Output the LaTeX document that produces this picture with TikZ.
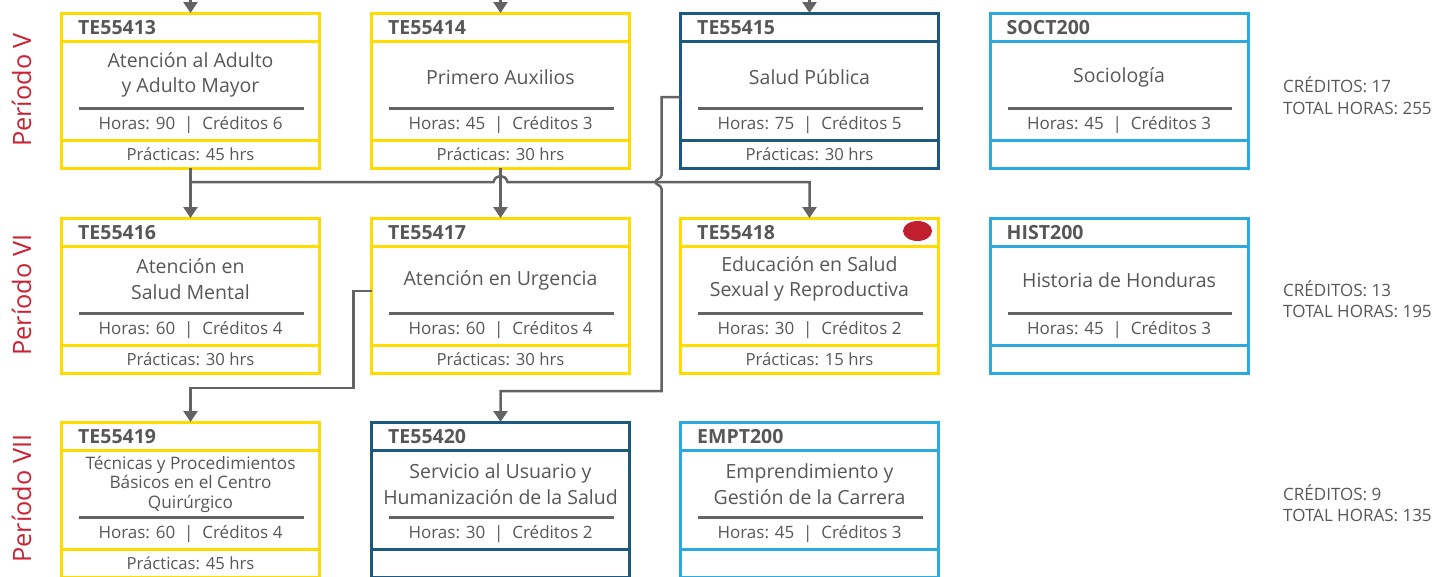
\documentclass[tikz,border=0pt]{standalone}
\usepackage{fontspec}
\setmainfont{Open Sans}
\usetikzlibrary{calc,arrows.meta,shapes.geometric}
\definecolor{cyel}{HTML}{FFDB00}
\definecolor{cdark}{HTML}{1B5A7E}
\definecolor{clight}{HTML}{2AAAE1}
\definecolor{ctxt}{HTML}{575757}
\definecolor{cline}{HTML}{636363}
\definecolor{cred}{HTML}{CC2233}
\definecolor{cdot}{HTML}{C01F2E}
\tikzset{
  cbox/.style={rectangle, minimum width=258pt, minimum height=155pt, line width=3pt, inner sep=0pt, outer sep=0pt},
  cdiv/.style={line width=3pt},
  csep/.style={line width=3pt, draw=cline},
  ccode/.style={anchor=west, inner sep=0pt, text=ctxt, font=\fontsize{19.5}{22}\selectfont\bfseries},
  ctitle/.style={align=center, inner sep=0pt, text=ctxt, font=\fontsize{19.5}{25.5}\selectfont},
  csmall/.style={font=\fontsize{17.2}{19.5}\selectfont},
  cone/.style={yshift=-2pt},
  chours/.style={inner sep=0pt, text=ctxt, font=\fontsize{17}{20}\selectfont},
  cprac/.style={inner sep=0pt, text=ctxt, font=\fontsize{16.7}{20}\selectfont},
  period/.style={rotate=90, inner sep=0pt, text=cred, font=\fontsize{25.3}{28}\selectfont},
  tot/.style={anchor=west, align=left, inner sep=0pt, text=ctxt, font=\fontsize{17}{21.5}\selectfont},
  conn/.style={draw=cline, line width=2.5pt, -{Triangle[length=11pt,width=14pt]}},
}
\newcommand\course[9]{%
  \node[cbox, draw=#4] (#1) at (#2+129,#3+77.5) {};
  \draw[cdiv, draw=#4] ($(#1.north west)+(0,28)$) -- ($(#1.north east)+(0,28)$);
  \draw[cdiv, draw=#4] ($(#1.north west)+(0,127)$) -- ($(#1.north east)+(0,127)$);
  \draw[csep] ($(#1.north west)+(17.5,95)$) -- ($(#1.north east)+(-16,95)$);
  \node[ccode] (#1-code) at ($(#1.north west)+(16.5,15)$) {#5};
  \node[ctitle,#9] (#1-title) at ($(#1.north)+(0,62)$) {#6};
  \node[chours] (#1-hours) at ($(#1.north)+(0,112)$) {#7};
  \node[cprac] (#1-prac) at ($(#1.north)+(0,141.5)$) {#8};
}
\begin{document}
\begin{tikzpicture}[x=1pt,y=-1pt]
\useasboundingbox (0,0) rectangle (1439,576);
% Row V
\course{b13}{61.5}{13}{cyel}{TE55413}{Atención al Adulto\\y Adulto Mayor}{Horas: 90 ~|~ Créditos 6}{Prácticas: 45 hrs}{}
\course{b14}{371.5}{13}{cyel}{TE55414}{Primero Auxilios}{Horas: 45 ~|~ Créditos 3}{Prácticas: 30 hrs}{cone}
\course{b15}{680.5}{13}{cdark}{TE55415}{Salud Pública}{Horas: 75 ~|~ Créditos 5}{Prácticas: 30 hrs}{cone}
\course{b21}{990}{13}{clight}{SOCT200}{Sociología}{Horas: 45 ~|~ Créditos 3}{}{cone}
% Row VI
\course{b16}{61.5}{218}{cyel}{TE55416}{Atención en\\Salud Mental}{Horas: 60 ~|~ Créditos 4}{Prácticas: 30 hrs}{yshift=1pt}
\course{b17}{371.5}{218}{cyel}{TE55417}{Atención en Urgencia}{Horas: 60 ~|~ Créditos 4}{Prácticas: 30 hrs}{}
\course{b18}{680.5}{218}{cyel}{TE55418}{Educación en Salud\\Sexual y Reproductiva}{Horas: 30 ~|~ Créditos 2}{Prácticas: 15 hrs}{yshift=1pt}
\course{b22}{990}{218}{clight}{HIST200}{Historia de Honduras}{Horas: 45 ~|~ Créditos 3}{}{}
% Row VII
\course{b19}{61.5}{422}{cyel}{TE55419}{Técnicas y Procedimientos\\Básicos en el Centro\\Quirúrgico}{Horas: 60 ~|~ Créditos 4}{Prácticas: 45 hrs}{csmall}
\course{b20}{371.5}{422}{cdark}{TE55420}{Servicio al Usuario y\\Humanización de la Salud}{Horas: 30 ~|~ Créditos 2}{}{}
\course{b23}{680.5}{422}{clight}{EMPT200}{Emprendimiento y\\Gestión de la Carrera}{Horas: 45 ~|~ Créditos 3}{}{}
% red dot
\node[ellipse, fill=cdot, minimum width=29pt, minimum height=20pt, inner sep=0pt] (dot) at (917.5,231) {};
% period labels
\node[period] (pV) at (21.5,90) {Período V};
\node[period] (pVI) at (21.5,295) {Período VI};
\node[period] (pVII) at (21.5,498.5) {Período VII};
% totals
\node[tot] (tV) at (1283,95.5) {CRÉDITOS: 17\\TOTAL HORAS: 255};
\node[tot] (tVI) at (1283,299) {CRÉDITOS: 13\\TOTAL HORAS: 195};
\node[tot] (tVII) at (1283,503) {CRÉDITOS: 9\\TOTAL HORAS: 135};
% incoming arrows from above
\coordinate (t13) at (b13.north |- 0,0);
\coordinate (t14) at (b14.north |- 0,0);
\coordinate (t15) at (b15.north |- 0,0);
\draw[conn] (t13) -- (b13.north);
\draw[conn] (t14) -- (b14.north);
\draw[conn] (t15) -- (b15.north);
% V -> VI
\coordinate (busL) at ($(b13.south)+(0,14)$);
\coordinate (hopC) at (b14.south |- busL);
\draw[conn] (b13.south) -- (b16.north);
\draw[conn] (busL) -- ($(hopC)+(-7,0)$) .. controls ($(hopC)+(-5,-8)$) and ($(hopC)+(5,-8)$) .. ($(hopC)+(7,0)$) -- (b18.north |- busL) -- (b18.north);
\draw[conn] (b14.south) -- (b17.north);
% TE55415 -> TE55420
\coordinate (s15) at ($(b15.north west)+(0,84)$);
\coordinate (k15) at ($(s15)+(-19,0)$);
\coordinate (vjC) at (k15 |- busL);
\coordinate (k15b) at ($(k15)+(0,294)$);
\draw[conn] (s15) -- (k15) -- ($(vjC)+(0,-7)$) .. controls ($(vjC)+(0,-3)$) and ($(vjC)+(-6,-3)$) .. ($(vjC)+(-6,0)$) .. controls ($(vjC)+(-6,3)$) and ($(vjC)+(0,3)$) .. ($(vjC)+(0,7)$) -- (k15b) -- (k15b -| b20.north) -- (b20.north);
% TE55417 -> TE55419
\coordinate (s17) at ($(b17.north west)+(0,73)$);
\coordinate (k17) at ($(s17)+(-18,0)$);
\coordinate (k17b) at ($(k17)+(0,97)$);
\draw[conn] (s17) -- (k17) -- (k17b) -- (k17b -| b19.north) -- (b19.north);
\end{tikzpicture}
\end{document}
